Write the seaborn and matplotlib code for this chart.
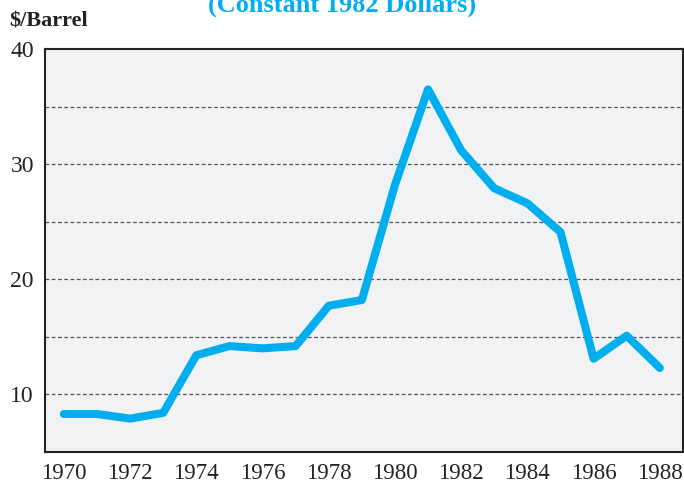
import pandas as pd
import seaborn as sns
import matplotlib.pyplot as plt
from matplotlib.ticker import MultipleLocator

years = list(range(1970, 1989))
price = [8.3, 8.3, 7.9, 8.4, 13.4, 14.2, 14.0, 14.2, 17.7, 18.2,
         28.2, 36.5, 31.2, 27.9, 26.6, 24.1, 13.1, 15.1, 12.3]
year_ticks = list(range(1970, 1989, 2))
y_ticks = [10, 20, 30, 40]

df = pd.DataFrame({"Year": years, "Price": price})

sns.set_theme(style="white")
plt.rcParams["font.family"] = ["Liberation Serif", "DejaVu Serif"]

fig = plt.figure(figsize=(6.84, 4.87), dpi=100)
ax = fig.add_axes([45 / 684, 1 - 452 / 487, 638 / 684, 403 / 487])
ax.set_facecolor("#f1f2f4")

for y in [10, 15, 20, 25, 30, 35]:
    ax.axhline(y, color="#555555", lw=0.9, ls=(0, (3, 2)), zorder=1)

sns.lineplot(data=df, x="Year", y="Price", ax=ax, color="#00aeef",
             linewidth=5.8, zorder=3)

ax.set_xlim(1969.43, 1988.7)
ax.set_ylim(5, 40)
ax.set_xticks(year_ticks)
ax.xaxis.set_minor_locator(MultipleLocator(1))
ax.set_yticks(y_ticks)
ax.set_xlabel("")
ax.set_ylabel("")
ax.tick_params(axis="x", which="both", direction="in", length=12, width=1.2,
               color="#333333", labelsize=16.5, pad=8, labelcolor="#222222")
ax.tick_params(axis="y", length=0, labelsize=17, pad=8, labelcolor="#222222")
for s in ax.spines.values():
    s.set_color("#222222")
    s.set_linewidth(1.5)

fig.text(9 / 684, 1 - 26 / 487, "$/Barrel", fontsize=16, fontweight="bold",
         ha="left", va="baseline", color="#222222")
fig.text(342 / 684, 1 - 12 / 487, "(Constant 1982 Dollars)", fontsize=19,
         fontweight="bold", ha="center", va="baseline", color="#00aeef")

fig.savefig("out.png", dpi=100)
